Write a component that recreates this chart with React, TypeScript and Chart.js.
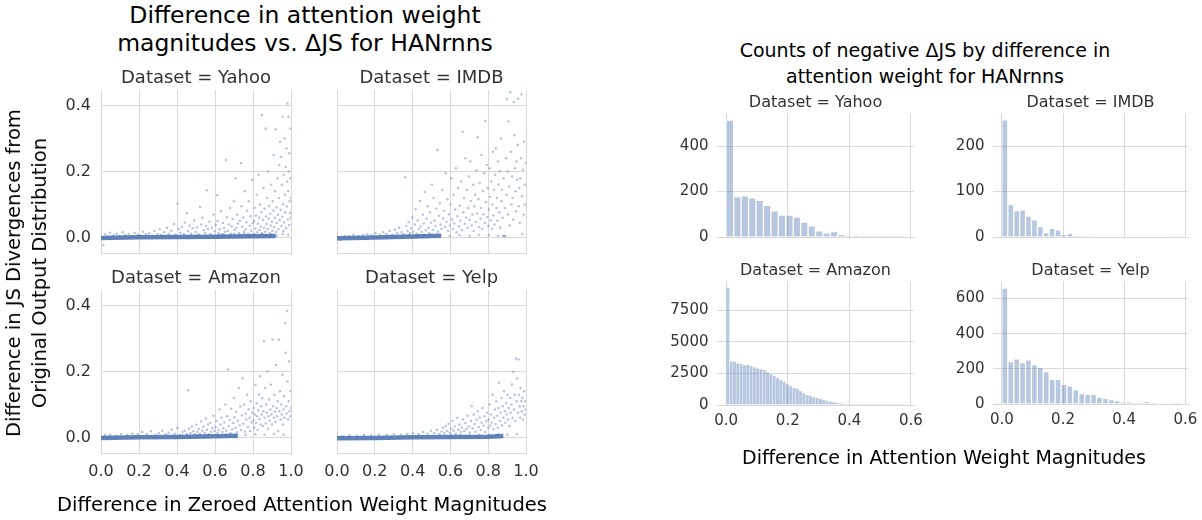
import React, { useEffect, useRef } from 'react';
import { Chart, registerables } from 'chart.js';

Chart.register(...registerables);

const FONT = "'DejaVu Sans', 'Liberation Sans', sans-serif";
const TEXT = '#333333';
const GRID = '#d9d9d9';
const BLUE = '76,114,176';

// ---------- Scatter panels ----------
const yahooPoints: [number, number][] = [
  [0.012,-0.021],[0.023,0.011],[0.037,0.004],[0.048,0.016],[0.066,0.008],[0.083,0.013],[0.097,0.006],[0.114,0.017],[0.128,0.009],[0.146,0.012],[0.163,0.005],[0.177,0.015],[0.194,0.010],[0.208,0.007],[0.221,0.019],[0.236,0.011],[0.253,0.014],[0.268,0.006],[0.281,0.021],[0.297,0.012],[0.309,0.026],[0.318,0.009],[0.333,0.017],[0.347,0.031],[0.356,0.013],[0.371,0.022],[0.384,0.042],[0.392,0.010],[0.403,0.104],[0.409,0.027],[0.418,0.016],[0.427,0.034],[0.436,0.012],[0.441,0.047],[0.452,0.075],[0.458,0.021],[0.466,0.037],[0.474,0.013],[0.483,0.029],[0.491,0.053],[0.498,0.018],[0.506,0.032],[0.513,0.011],[0.522,0.094],[0.527,0.041],[0.534,0.061],[0.541,0.023],[0.548,0.015],[0.553,0.036],[0.557,0.144],[0.563,0.027],[0.571,0.049],[0.577,0.012],[0.584,0.031],[0.592,0.071],[0.598,0.020],
  [0.604,0.039],[0.611,0.129],[0.613,0.051],[0.619,0.016],[0.624,0.026],[0.631,0.081],[0.636,0.011],[0.642,0.045],[0.648,0.030],[0.653,0.019],[0.659,0.236],[0.662,0.063],[0.668,0.022],[0.673,0.041],[0.679,0.091],[0.684,0.013],[0.688,0.035],[0.694,0.057],[0.699,0.111],[0.703,0.024],[0.708,0.181],[0.712,0.030],[0.716,0.071],[0.721,0.044],[0.726,0.015],[0.731,0.052],[0.737,0.226],[0.739,0.096],[0.743,0.034],[0.748,0.062],[0.752,0.019],[0.757,0.141],[0.761,0.026],[0.766,0.047],[0.769,0.082],[0.774,0.013],[0.778,0.111],[0.783,0.037],[0.787,0.066],[0.791,0.022],[0.796,0.176],[0.799,0.045],
  [0.803,0.012],[0.806,0.051],[0.809,0.091],[0.813,0.028],[0.816,0.068],[0.819,0.131],[0.822,0.017],[0.826,0.043],[0.829,0.191],[0.832,0.061],[0.835,0.024],[0.838,0.101],[0.841,0.035],[0.844,0.078],[0.847,0.372],[0.849,0.014],[0.852,0.055],[0.855,0.151],[0.858,0.031],[0.861,0.088],[0.864,0.019],[0.867,0.331],[0.869,0.065],[0.872,0.042],[0.875,0.121],[0.877,0.027],[0.880,0.201],[0.883,0.058],[0.885,0.096],[0.888,0.015],[0.891,0.073],[0.893,0.038],[0.896,0.161],[0.899,0.049],[0.902,0.022],[0.904,0.111],[0.907,0.083],[0.909,0.251],[0.912,0.033],[0.914,0.061],[0.917,0.141],[0.919,0.328],[0.922,0.018],[0.924,0.092],[0.926,0.045],[0.929,0.181],[0.931,0.070],[0.933,0.026],[0.936,0.121],[0.938,0.221],[0.940,0.054],[0.943,0.291],[0.945,0.085],[0.947,0.245],[0.949,0.036],[0.952,0.161],[0.954,0.064],[0.956,0.367],[0.958,0.102],[0.960,0.021],[0.962,0.191],[0.964,0.047],[0.966,0.301],[0.968,0.131],[0.970,0.077],[0.972,0.215],[0.974,0.029],[0.976,0.271],[0.978,0.095],[0.980,0.171],[0.981,0.407],[0.983,0.056],[0.985,0.141],[0.987,0.367],[0.988,0.201],[0.990,0.039],[0.991,0.256],[0.993,0.111],[0.994,0.076],[0.996,0.331],[0.997,0.181],[0.998,0.061],[0.999,0.121],
  [0.617,0.008],[0.646,0.011],[0.677,0.006],[0.701,0.012],[0.728,0.009],[0.754,0.013],[0.781,0.007],[0.811,0.010],[0.843,0.012],[0.871,0.008],[0.898,0.010],[0.927,0.007],[0.957,0.012],[0.986,0.009],
];
const yahooBandX = [0, 0.2, 0.4, 0.6, 0.8, 0.92];
const yahooBandY = [0.0, 0.002, 0.003, 0.004, 0.005, 0.006];

const imdbPoints: [number, number][] = [
  [0.018,-0.006],[0.041,0.007],[0.063,0.005],[0.087,0.010],[0.112,0.006],[0.138,0.009],[0.161,0.012],[0.184,0.008],[0.203,0.014],[0.226,0.010],[0.244,0.017],[0.262,0.012],[0.279,0.021],[0.293,0.009],[0.306,0.025],[0.318,0.014],[0.329,0.031],[0.341,0.018],[0.352,0.011],[0.361,0.183],[0.366,0.036],[0.373,0.021],[0.379,0.048],[0.386,0.015],[0.392,0.029],[0.398,0.062],[0.404,0.019],[0.411,0.041],[0.416,0.087],[0.422,0.013],[0.427,0.053],[0.433,0.027],[0.438,0.112],[0.443,0.035],[0.448,0.018],[0.454,0.071],[0.459,0.044],[0.464,0.139],[0.469,0.023],[0.474,0.058],[0.479,0.096],[0.484,0.031],[0.488,0.015],[0.493,0.077],[0.497,0.046],[0.502,0.161],[0.507,0.024],[0.511,0.121],[0.516,0.052],[0.521,0.036],[0.526,0.088],[0.531,0.266],[0.534,0.019],[0.539,0.067],[0.544,0.105],[0.548,0.041],[0.553,0.028],[0.557,0.145],[0.562,0.059],[0.566,0.082],[0.571,0.033],[0.575,0.196],[0.579,0.049],[0.584,0.117],[0.588,0.022],[0.592,0.072],[0.597,0.038],
  [0.601,0.101],[0.605,0.181],[0.609,0.056],[0.613,0.027],[0.617,0.131],[0.621,0.044],[0.625,0.086],[0.629,0.211],[0.633,0.017],[0.637,0.066],[0.641,0.151],[0.645,0.035],[0.649,0.098],[0.653,0.052],[0.657,0.171],[0.661,0.024],[0.665,0.321],[0.668,0.078],[0.672,0.121],[0.676,0.043],[0.679,0.241],[0.683,0.062],[0.687,0.145],[0.691,0.031],[0.694,0.091],[0.698,0.186],[0.702,0.055],[0.705,0.231],[0.709,0.112],[0.713,0.038],[0.716,0.071],[0.720,0.161],[0.723,0.021],[0.727,0.096],[0.731,0.131],[0.734,0.048],[0.738,0.205],[0.741,0.074],[0.745,0.305],[0.748,0.117],[0.752,0.033],[0.755,0.166],[0.759,0.059],[0.762,0.091],[0.765,0.251],[0.769,0.027],[0.772,0.141],[0.775,0.072],[0.779,0.196],[0.782,0.045],[0.785,0.354],[0.788,0.108],[0.792,0.221],[0.795,0.063],[0.798,0.151],
  [0.801,0.036],[0.804,0.086],[0.807,0.211],[0.810,0.124],[0.813,0.053],[0.816,0.171],[0.819,0.028],[0.822,0.101],[0.825,0.261],[0.828,0.068],[0.831,0.146],[0.834,0.041],[0.837,0.191],[0.840,0.271],[0.843,0.091],[0.846,0.121],[0.849,0.052],[0.852,0.231],[0.855,0.162],[0.858,0.078],[0.861,0.201],[0.864,0.032],[0.867,0.301],[0.870,0.111],[0.873,0.146],[0.876,0.061],[0.879,0.006],[0.882,0.181],[0.885,0.006],[0.888,0.091],[0.891,0.006],[0.894,0.241],[0.897,0.131],[0.899,0.421],[0.902,0.201],[0.905,0.071],[0.908,0.352],[0.911,0.156],[0.914,0.038],[0.917,0.441],[0.920,0.261],[0.923,0.101],[0.926,0.186],[0.929,0.121],[0.932,0.056],[0.935,0.411],[0.938,0.311],[0.941,0.211],[0.944,0.141],[0.947,0.081],[0.950,0.231],[0.953,0.176],[0.956,0.281],[0.958,0.421],[0.961,0.096],[0.964,0.151],[0.967,0.046],[0.970,0.181],[0.973,0.241],[0.976,0.435],[0.979,0.126],[0.981,0.012],[0.984,0.206],[0.987,0.071],[0.990,0.291],[0.993,0.161],[0.996,0.101],[0.999,0.226],
  [0.381,0.008],[0.421,0.006],[0.462,0.009],[0.503,0.007],[0.547,0.008],[0.596,0.006],[0.648,0.009],[0.702,0.007],[0.751,0.010],[0.803,0.008],[0.852,0.007],
];
const imdbBandX = [0, 0.15, 0.3, 0.45, 0.55];
const imdbBandY = [-0.001, 0.001, 0.003, 0.005, 0.007];

const amazonPoints: [number, number][] = [
  [0.021,0.008],[0.048,0.010],[0.077,0.007],[0.106,0.012],[0.138,0.009],[0.166,0.013],[0.193,0.011],[0.217,0.018],[0.241,0.012],[0.263,0.020],[0.286,0.009],[0.304,0.014],[0.322,0.022],[0.341,0.011],[0.356,0.016],[0.371,0.025],[0.388,0.013],[0.402,0.030],[0.417,0.009],[0.429,0.018],[0.441,0.022],[0.452,0.012],[0.459,0.144],[0.463,0.028],[0.471,0.015],[0.478,0.035],[0.486,0.020],[0.494,0.011],
  [0.501,0.040],[0.507,0.018],[0.514,0.027],[0.521,0.013],[0.527,0.050],[0.533,0.022],[0.539,0.034],[0.546,0.016],[0.552,0.059],[0.558,0.025],[0.563,0.041],[0.569,0.012],[0.575,0.046],[0.581,0.019],[0.586,0.030],[0.592,0.067],[0.597,0.022],[0.603,0.033],[0.608,0.051],[0.613,0.015],[0.619,0.024],[0.624,0.086],[0.629,0.041],[0.634,0.061],[0.639,0.018],[0.644,0.029],[0.649,0.047],[0.654,0.101],[0.659,0.022],[0.663,0.066],[0.668,0.207],[0.672,0.036],[0.677,0.054],[0.681,0.014],[0.686,0.088],[0.690,0.026],[0.695,0.045],[0.699,0.121],[0.703,0.063],[0.708,0.031],[0.712,0.079],[0.716,0.017],[0.720,0.052],[0.725,0.151],[0.729,0.038],[0.733,0.095],[0.737,0.024],[0.741,0.068],[0.745,0.181],[0.749,0.043],[0.753,0.101],[0.757,0.019],[0.761,0.074],[0.765,0.056],[0.769,0.131],[0.773,0.033],[0.777,0.087],[0.781,0.061],[0.785,0.021],[0.789,0.111],[0.793,0.047],[0.797,0.076],
  [0.801,0.053],[0.804,0.091],[0.807,0.032],[0.810,0.071],[0.813,0.161],[0.816,0.046],[0.819,0.105],[0.822,0.066],[0.825,0.024],[0.828,0.084],[0.831,0.131],[0.834,0.057],[0.837,0.187],[0.840,0.041],[0.843,0.096],[0.846,0.071],[0.849,0.121],[0.852,0.036],[0.855,0.081],[0.858,0.293],[0.861,0.061],[0.864,0.151],[0.867,0.044],[0.870,0.101],[0.873,0.076],[0.876,0.201],[0.879,0.028],[0.882,0.066],[0.885,0.116],[0.888,0.052],[0.891,0.086],[0.894,0.161],[0.897,0.071],[0.900,0.041],[0.903,0.298],[0.906,0.096],[0.909,0.061],[0.912,0.131],[0.915,0.079],[0.918,0.048],[0.921,0.221],[0.924,0.091],[0.927,0.066],[0.930,0.111],[0.933,0.021],[0.936,0.298],[0.939,0.081],[0.942,0.141],[0.945,0.056],[0.948,0.101],[0.951,0.071],[0.954,0.191],[0.957,0.041],[0.960,0.086],[0.963,0.126],[0.966,0.061],[0.969,0.348],[0.971,0.258],[0.974,0.096],[0.977,0.074],[0.980,0.384],[0.982,0.171],[0.985,0.056],[0.988,0.111],[0.990,0.231],[0.993,0.081],[0.995,0.066],[0.997,0.141],[0.999,0.091],
  [0.512,0.008],[0.561,0.009],[0.611,0.007],[0.661,0.010],[0.711,0.008],[0.761,0.009],[0.812,0.011],[0.861,0.010],[0.911,0.012],[0.961,0.010],
];
const amazonBandX = [0, 0.2, 0.4, 0.6, 0.72];
const amazonBandY = [0.0, 0.002, 0.003, 0.005, 0.007];

const yelpPoints: [number, number][] = [
  [0.028,0.006],[0.066,0.008],[0.104,0.007],[0.143,0.009],[0.181,0.008],[0.222,0.010],[0.262,0.009],[0.301,0.011],[0.338,0.010],[0.372,0.012],[0.403,0.014],[0.431,0.011],[0.456,0.018],[0.478,0.013],[0.497,0.022],[0.514,0.015],[0.529,0.025],[0.543,0.012],
  [0.553,0.019],[0.561,0.031],[0.569,0.014],[0.576,0.036],[0.583,0.021],[0.591,0.043],[0.597,0.016],[0.604,0.028],[0.611,0.051],[0.617,0.022],[0.623,0.035],[0.629,0.013],[0.636,0.061],[0.642,0.025],[0.648,0.041],[0.654,0.018],[0.661,0.031],[0.667,0.056],[0.673,0.021],[0.679,0.045],[0.685,0.027],[0.691,0.067],[0.697,0.035],[0.703,0.016],[0.709,0.051],[0.713,0.096],[0.718,0.029],[0.723,0.071],[0.729,0.042],[0.734,0.019],[0.739,0.055],[0.745,0.081],[0.750,0.033],[0.755,0.061],[0.760,0.024],[0.765,0.046],[0.770,0.091],[0.775,0.037],[0.780,0.066],[0.785,0.018],[0.790,0.051],[0.795,0.076],[0.799,0.031],
  [0.803,0.056],[0.807,0.101],[0.811,0.038],[0.815,0.071],[0.819,0.047],[0.823,0.131],[0.827,0.026],[0.831,0.061],[0.835,0.086],[0.839,0.042],[0.843,0.111],[0.847,0.067],[0.851,0.031],[0.855,0.091],[0.858,0.167],[0.862,0.052],[0.866,0.076],[0.870,0.121],[0.873,0.038],[0.877,0.096],[0.881,0.061],[0.884,0.141],[0.888,0.081],[0.891,0.046],[0.895,0.106],[0.898,0.071],[0.902,0.131],[0.905,0.056],[0.909,0.091],[0.912,0.036],[0.916,0.121],[0.919,0.076],[0.923,0.101],[0.926,0.162],[0.929,0.061],[0.933,0.200],[0.936,0.086],[0.940,0.131],[0.943,0.051],[0.947,0.240],[0.950,0.111],[0.953,0.180],[0.957,0.076],[0.960,0.237],[0.963,0.131],[0.966,0.096],[0.969,0.061],[0.972,0.151],[0.975,0.111],[0.978,0.081],[0.981,0.121],[0.984,0.056],[0.987,0.096],[0.990,0.141],[0.993,0.071],[0.996,0.111],[0.999,0.086],
  [0.602,0.008],[0.652,0.009],[0.702,0.007],[0.752,0.010],[0.802,0.009],[0.852,0.011],[0.902,0.010],[0.952,0.012],
];
const yelpBandX = [0, 0.2, 0.4, 0.6, 0.8, 0.88];
const yelpBandY = [-0.001, 0.0, 0.002, 0.003, 0.004, 0.006];

const scatterXTicks = [0, 0.2, 0.4, 0.6, 0.8, 1.0];
const scatterYTicks = [0, 0.2, 0.4];
const scatterXRange = [0, 1];
const scatterYRange = [-0.0455, 0.4476];

// ---------- Histogram panels ----------
const yahooCounts = [515, 178, 181, 173, 161, 139, 115, 97, 97, 88, 66, 49, 27, 18, 24, 12, 4, 7, 3, 3, 1, 1, 1, 1];
const yahooBinWidth = 0.58 / 24;
const imdbCounts = [258, 72, 58, 60, 46, 38, 23, 10, 19, 16, 6, 8, 2, 1, 1, 0, 0, 0, 0, 0, 0, 0, 0, 0, 0, 0, 0, 0, 0, 1];
const imdbBinWidth = 0.58 / 30;
const amazonCounts = [9300, 3450, 3430, 3300, 3280, 3150, 3180, 3080, 2980, 2900, 2850, 2780, 2600, 2450, 2300, 2150, 2000, 1850, 1650, 1500, 1350, 1300, 1100, 950, 800, 720, 620, 560, 480, 400, 330, 280, 230, 190, 150, 120, 90, 70, 50, 35, 25, 18, 14, 10, 8, 6, 5, 4, 3, 2, 2, 1, 1, 1];
const amazonBinWidth = 0.58 / 54;
const yelpCounts = [660, 242, 257, 236, 251, 223, 208, 185, 141, 141, 112, 103, 80, 59, 55, 55, 38, 32, 25, 19, 11, 10, 4, 5, 13, 1, 0, 0, 0, 1];
const yelpBinWidth = 0.58 / 30;

const histXTicks = [0, 0.2, 0.4, 0.6];
const yahooYTicks = [0, 200, 400];
const imdbYTicks = [0, 100, 200];
const amazonYTicks = [0, 2500, 5000, 7500];
const yelpYTicks = [0, 200, 400, 600];

type Box = { l: number; t: number; w: number; h: number };
type Margin = { l: number; t: number; r: number; b: number };

type PanelProps = {
  kind: 'scatter' | 'hist';
  title: string;
  box: Box;
  m: Margin;
  xRange: number[];
  yRange: number[];
  xTicks: number[];
  yTicks: number[];
  showX: boolean;
  showY: boolean;
  points?: [number, number][];
  bandX?: number[];
  bandY?: number[];
  counts?: number[];
  binWidth?: number;
  edge?: number;
  tickSize: number;
  titleSize: number;
  titleOffset: number;
  xPad: number;
  yPad: number;
};

function Panel(p: PanelProps) {
  const ref = useRef<HTMLCanvasElement>(null);
  const cw = Math.round(p.box.w + p.m.l + p.m.r);
  const ch = Math.round(p.box.h + p.m.t + p.m.b);

  useEffect(() => {
    if (!ref.current) return;
    const titlePlugin = {
      id: 'panelTitle',
      afterDraw(chart: any) {
        const { ctx, chartArea } = chart;
        ctx.save();
        ctx.font = `${p.titleSize}px ${FONT}`;
        ctx.fillStyle = TEXT;
        ctx.textAlign = 'center';
        ctx.textBaseline = 'middle';
        ctx.fillText(p.title, (chartArea.left + chartArea.right) / 2, chartArea.top - p.titleOffset);
        ctx.restore();
      },
    };
    const zeroPad = (s: any) => {
      s.paddingLeft = 0;
      s.paddingRight = 0;
      s.paddingTop = 0;
      s.paddingBottom = 0;
    };
    const font = { family: FONT, size: p.tickSize };
    let datasets: any[];
    let type: any;
    if (p.kind === 'scatter') {
      type = 'scatter';
      datasets = [
        {
          type: 'scatter',
          data: (p.points || []).map(([x, y]) => ({ x, y })),
          pointRadius: 1.25,
          pointBackgroundColor: `rgba(${BLUE},0.42)`,
          pointBorderWidth: 0,
          pointHoverRadius: 0,
        },
        {
          type: 'line',
          data: (p.bandX || []).map((x, i) => ({ x, y: (p.bandY || [])[i] })),
          borderColor: `rgba(${BLUE},0.88)`,
          borderWidth: 4.5,
          pointRadius: 0,
          fill: false,
          tension: 0,
        },
      ];
    } else {
      type = 'bar';
      const w = p.binWidth || 0.02;
      datasets = [
        {
          data: (p.counts || []).map((c, i) => ({ x: (i + 0.5) * w, y: c })),
          backgroundColor: `rgba(${BLUE},0.4)`,
          borderColor: 'rgba(255,255,255,0.35)',
          borderWidth: p.edge ?? 1,
          barPercentage: 1,
          categoryPercentage: 1,
          grouped: false,
        },
      ];
    }
    const chart = new Chart(ref.current, {
      type,
      data: { datasets },
      plugins: [titlePlugin],
      options: {
        animation: false,
        responsive: false,
        events: [],
        layout: { padding: { left: 0, top: p.m.t, right: p.m.r, bottom: 0 } },
        plugins: { legend: { display: false }, tooltip: { enabled: false }, title: { display: false } },
        scales: {
          x: {
            type: 'linear',
            min: p.xRange[0],
            max: p.xRange[1],
            offset: false,
            bounds: 'data',
            afterBuildTicks: (axis: any) => {
              axis.ticks = p.xTicks.map((v) => ({ value: v }));
            },
            afterFit: (s: any) => {
              s.height = p.m.b;
              zeroPad(s);
            },
            grid: { color: GRID, lineWidth: 1, drawTicks: false, offset: false },
            border: { display: true, color: GRID, width: 1 },
            ticks: {
              display: p.showX,
              padding: p.xPad,
              font,
              color: TEXT,
              maxRotation: 0,
              autoSkip: false,
              callback: (v: any) => Number(v).toFixed(1),
            },
          },
          y: {
            type: 'linear',
            min: p.yRange[0],
            max: p.yRange[1],
            bounds: 'data',
            afterBuildTicks: (axis: any) => {
              axis.ticks = p.yTicks.map((v) => ({ value: v }));
            },
            afterFit: (s: any) => {
              s.width = p.m.l;
              zeroPad(s);
            },
            grid: { color: GRID, lineWidth: 1, drawTicks: false },
            border: { display: p.kind === 'scatter', color: GRID, width: 1 },
            ticks: {
              display: p.showY,
              padding: p.yPad,
              font,
              color: TEXT,
              autoSkip: false,
              callback: (v: any) => (p.kind === 'scatter' ? Number(v).toFixed(1) : String(v)),
            },
          },
        },
      } as any,
    });
    return () => chart.destroy();
  }, []);

  return (
    <canvas
      ref={ref}
      width={cw}
      height={ch}
      style={{ position: 'absolute', left: p.box.l - p.m.l, top: p.box.t - p.m.t, width: cw, height: ch }}
    />
  );
}

const textStyle = (cx: number, cy: number, size: number, lh: number, extra: any = {}): any => ({
  position: 'absolute',
  left: cx,
  top: cy,
  transform: 'translate(-50%, -50%)',
  fontFamily: FONT,
  fontSize: size,
  lineHeight: `${lh}px`,
  color: '#000',
  whiteSpace: 'pre',
  textAlign: 'center',
  ...extra,
});

export default function App() {
  const sM: Margin = { l: 50, t: 30, r: 16, b: 36 };
  const sMr: Margin = { l: 16, t: 30, r: 16, b: 36 };
  const hM: Margin = { l: 50, t: 26, r: 14, b: 30 };
  const hMr: Margin = { l: 46, t: 26, r: 14, b: 30 };
  const sc = { tickSize: 16, titleSize: 18, titleOffset: 12, xPad: 9.5, yPad: 10 };
  const hc = { tickSize: 15, titleSize: 16, titleOffset: 10, xPad: 7, yPad: 8.5 };
  const hxL = [-0.03, 0.61];
  const hxR = [-0.029, 0.6085];
  return (
    <div style={{ position: 'absolute', left: 0, top: 0, width: 1202, height: 520, background: '#fff', overflow: 'hidden' }}>
      <div style={textStyle(305, 29, 23.5, 28)}>{'Difference in attention weight\nmagnitudes vs. ΔJS for HANrnns'}</div>
      <div style={textStyle(925, 63, 19, 26)}>{'Counts of negative ΔJS by difference in\nattention weight for HANrnns'}</div>

      <Panel kind="scatter" title="Dataset = Yahoo" box={{ l: 101, t: 90, w: 190, h: 163 }} m={sM} xRange={scatterXRange} yRange={scatterYRange} xTicks={scatterXTicks} yTicks={scatterYTicks} showX={false} showY={true} points={yahooPoints} bandX={yahooBandX} bandY={yahooBandY} {...sc} />
      <Panel kind="scatter" title="Dataset = IMDB" box={{ l: 337, t: 90, w: 189, h: 163 }} m={sMr} xRange={scatterXRange} yRange={scatterYRange} xTicks={scatterXTicks} yTicks={scatterYTicks} showX={false} showY={false} points={imdbPoints} bandX={imdbBandX} bandY={imdbBandY} {...sc} />
      <Panel kind="scatter" title="Dataset = Amazon" box={{ l: 101, t: 290, w: 190, h: 163 }} m={sM} xRange={scatterXRange} yRange={scatterYRange} xTicks={scatterXTicks} yTicks={scatterYTicks} showX={true} showY={true} points={amazonPoints} bandX={amazonBandX} bandY={amazonBandY} {...sc} />
      <Panel kind="scatter" title="Dataset = Yelp" box={{ l: 337, t: 290, w: 189, h: 163 }} m={sMr} xRange={scatterXRange} yRange={scatterYRange} xTicks={scatterXTicks} yTicks={scatterYTicks} showX={true} showY={false} points={yelpPoints} bandX={yelpBandX} bandY={yelpBandY} {...sc} />

      <Panel kind="hist" title="Dataset = Yahoo" box={{ l: 717, t: 113, w: 197, h: 124 }} m={hM} xRange={hxL} yRange={[0, 546]} xTicks={histXTicks} yTicks={yahooYTicks} showX={false} showY={true} counts={yahooCounts} binWidth={yahooBinWidth} {...hc} />
      <Panel kind="hist" title="Dataset = IMDB" box={{ l: 993, t: 113, w: 195, h: 124 }} m={hMr} xRange={hxR} yRange={[0, 273]} xTicks={histXTicks} yTicks={imdbYTicks} showX={false} showY={true} counts={imdbCounts} binWidth={imdbBinWidth} {...hc} />
      <Panel kind="hist" title="Dataset = Amazon" box={{ l: 717, t: 281, w: 197, h: 124 }} m={hM} xRange={hxL} yRange={[0, 9820]} xTicks={histXTicks} yTicks={amazonYTicks} showX={true} showY={true} counts={amazonCounts} binWidth={amazonBinWidth} edge={0.5} {...hc} />
      <Panel kind="hist" title="Dataset = Yelp" box={{ l: 993, t: 281, w: 195, h: 123 }} m={hMr} xRange={hxR} yRange={[0, 700]} xTicks={histXTicks} yTicks={yelpYTicks} showX={true} showY={true} counts={yelpCounts} binWidth={yelpBinWidth} {...hc} />

      <div style={textStyle(27, 273, 19.5, 26, { transform: 'translate(-50%, -50%) rotate(-90deg)' })}>{'Difference in JS Divergences from\nOriginal Output Distribution'}</div>
      <div style={textStyle(302, 505, 19.5, 24)}>{'Difference in Zeroed Attention Weight Magnitudes'}</div>
      <div style={textStyle(944, 457, 19, 24)}>{'Difference in Attention Weight Magnitudes'}</div>
    </div>
  );
}
